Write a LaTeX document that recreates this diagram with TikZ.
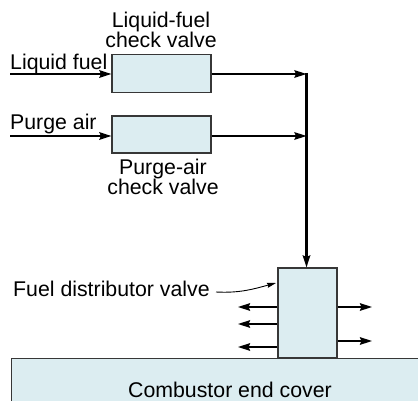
\documentclass[tikz,border=0pt]{standalone}
\usepackage{fontspec}
\setmainfont{Liberation Sans}
\usetikzlibrary{arrows.meta}
\definecolor{boxfill}{RGB}{220,237,241}
\definecolor{boxline}{RGB}{55,55,55}
\tikzset{
  valvebox/.style={draw=boxline, line width=1.1pt, fill=boxfill, inner sep=0pt},
  flow/.style={line width=2.2pt, -{Stealth[length=12pt,width=7.5pt,inset=1.5pt]}},
  plainflow/.style={line width=2.2pt},
  lbl/.style={inner sep=0pt, font=\fontsize{21.3}{20}\selectfont},
  pointer/.style={line width=0.9pt, -{Stealth[length=9pt,width=5pt,inset=1pt]}},
}
\begin{document}
\begin{tikzpicture}[x=1pt,y=-1pt]
\useasboundingbox (0,0) rectangle (418,401);
\clip (0,0) rectangle (418,401);
\fill[white] (0,0) rectangle (418,401);

% boxes
\node[valvebox, minimum width=99pt, minimum height=38pt] (lfv) at (161.5,73.5) {};
\node[valvebox, minimum width=99pt, minimum height=37pt] (pav) at (161.5,134.5) {};
\node[valvebox, minimum width=440pt, minimum height=60pt, anchor=north west] (cover) at (11,358) {};
\node[valvebox, minimum width=59pt, minimum height=90pt] (dist) at (307.5,313) {};

% labels
\node[lbl, align=center] (lfvlbl) at (161,29.5) {Liquid-fuel\\check valve};
\node[lbl, align=center] (pavlbl) at (163,177) {Purge-air\\check valve};
\node[lbl, anchor=base west] (lf) at (10,70) {Liquid fuel};
\node[lbl, anchor=base west] (pa) at (10,130) {Purge air};
\node[lbl, anchor=base west] (fdv) at (13,296) {Fuel distributor valve};
\node[lbl, anchor=base] (ccv) at (230,397) {Combustor end cover};

% junction coordinates
\coordinate (inL) at (10,74);
\coordinate (inP) at (10,136);
\coordinate (j1) at (306.5,74);
\coordinate (j2) at (306.5,136);

% inputs
\draw[flow] (inL) -- (inL -| lfv.west);
\draw[flow] (inP) -- (inP -| pav.west);
% outputs to manifold
\draw[flow] (lfv.east |- j1) -- (j1);
\draw[flow] (pav.east |- j2) -- (j2);
\draw[plainflow] ([yshift=1.1pt]j1) -- (j2);
\draw[flow] (j2) -- (j2 |- dist.north);

% distributor outputs
\coordinate (l1) at (238,307);
\coordinate (l2) at (238,324);
\coordinate (l3) at (238,347);
\coordinate (r1) at (372,307);
\coordinate (r2) at (372,341);
\draw[flow] (l1 -| dist.west) -- (l1);
\draw[flow] (l2 -| dist.west) -- (l2);
\draw[flow] (l3 -| dist.west) -- (l3);
\draw[flow] (r1 -| dist.east) -- (r1);
\draw[flow] (r2 -| dist.east) -- (r2);

% pointer
\coordinate (ps) at (216,292);
\coordinate (pe) at (276,283);
\draw[pointer] (ps) to[out=-3,in=195] (pe);
\end{tikzpicture}
\end{document}
